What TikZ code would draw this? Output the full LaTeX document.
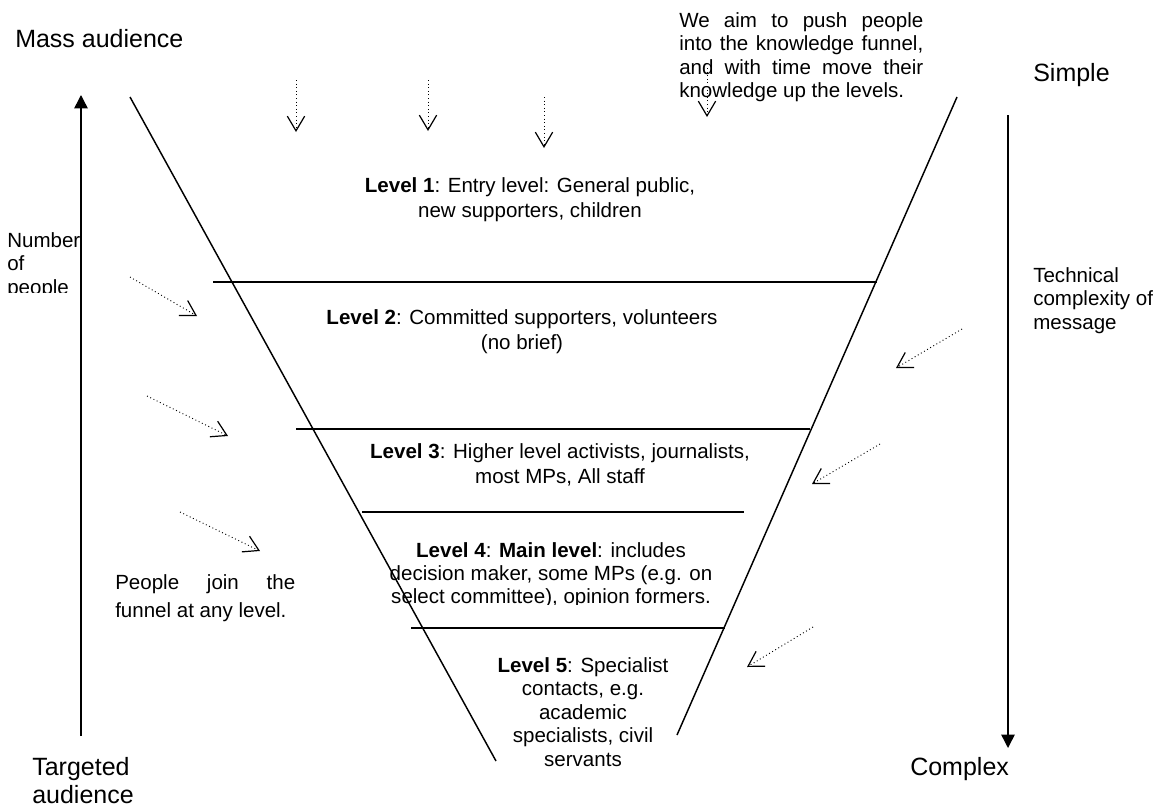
\documentclass[tikz,border=0pt]{standalone}
\usepackage{fontspec}
\setmainfont{Liberation Sans}
\usetikzlibrary{arrows.meta}
\begin{document}
\begin{tikzpicture}[x=0.75pt,y=-0.75pt,
  funnel/.style={line width=1.1pt},
  axisarrow/.style={line width=1.1pt,-{Triangle[length=10pt,width=10pt]}},
  push/.style={dotted,line width=0.7pt,-{Straight Barb[length=11pt,width=13pt,line width=0.9pt]}},
  body/.style={font=\fontsize{15.4}{17.6}\selectfont,inner sep=0pt},
  big/.style={font=\fontsize{18.75}{21.75}\selectfont,inner sep=0pt}]
\useasboundingbox (0,0) rectangle (1156,810);

% axes
\coordinate (la0) at (81,736); \coordinate (la1) at (81,95);
\coordinate (ra0) at (1008,115); \coordinate (ra1) at (1008,748);
\draw[axisarrow] (la0) -- (la1);
\draw[axisarrow] (ra0) -- (ra1);

% funnel
\coordinate (fl0) at (130,97); \coordinate (fl1) at (496,761);
\coordinate (fr0) at (957,97); \coordinate (fr1) at (677,735);
\draw[funnel] (fl0) -- (fl1);
\draw[funnel] (fr0) -- (fr1);
\coordinate (h1a) at (213,282); \coordinate (h1b) at (877,282);
\coordinate (h2a) at (296,429); \coordinate (h2b) at (810,429);
\coordinate (h3a) at (362,512); \coordinate (h3b) at (744,512);
\coordinate (h4a) at (411,628); \coordinate (h4b) at (725,628);
\draw[funnel] (h1a) -- (h1b);
\draw[funnel] (h2a) -- (h2b);
\draw[funnel] (h3a) -- (h3b);
\draw[funnel] (h4a) -- (h4b);

% push arrows (top)
\coordinate (v1a) at (296,80);  \coordinate (v1b) at (296,132);
\coordinate (v2a) at (428,80);  \coordinate (v2b) at (428,131);
\coordinate (v3a) at (544,97);  \coordinate (v3b) at (544,148);
\coordinate (v4a) at (707,68);  \coordinate (v4b) at (707,117);
\draw[push] (v1a) -- (v1b);
\draw[push] (v2a) -- (v2b);
\draw[push] (v3a) -- (v3b);
\draw[push] (v4a) -- (v4b);
% push arrows (left)
\coordinate (l1a) at (130,277); \coordinate (l1b) at (197,316);
\coordinate (l2a) at (147,396); \coordinate (l2b) at (228,436);
\coordinate (l3a) at (180,512); \coordinate (l3b) at (260,551);
\draw[push] (l1a) -- (l1b);
\draw[push] (l2a) -- (l2b);
\draw[push] (l3a) -- (l3b);
% push arrows (right)
\coordinate (r1a) at (962,329); \coordinate (r1b) at (896,368);
\coordinate (r2a) at (880,444); \coordinate (r2b) at (812,484);
\coordinate (r3a) at (813,627); \coordinate (r3b) at (747,667);
\draw[push] (r1a) -- (r1b);
\draw[push] (r2a) -- (r2b);
\draw[push] (r3a) -- (r3b);

% corner labels
\node[big,anchor=base west] (mass) at (15,47) {Mass audience};
\node[big,anchor=base west] (simple) at (1033,81) {Simple};
\node[big,anchor=base west] (targ1) at (32,775) {Targeted};
\node[big,anchor=base west] (targ2) at (32,803) {audience};
\node[big,anchor=base west] (complex) at (910,775) {Complex};

% top right note
\node[body,anchor=base west] (aim1) at (679,27) {\makebox[183pt][s]{We aim to push people}};
\node[body,anchor=base west] (aim2) at (679,50.5) {\makebox[183pt][s]{into the knowledge funnel,}};
\node[body,anchor=base west] (aim3) at (679,74) {\makebox[183pt][s]{and with time move their}};
\node[body,anchor=base west] (aim4) at (679,97.5) {knowledge up the levels.};

% number of people (clipped box)
\begin{scope}
\clip (0,220) rectangle (85,292);
\node[body,anchor=base west] (num1) at (7,247) {Number};
\node[body,anchor=base west] (num2) at (7,270) {of};
\node[body,anchor=base west] (num3) at (7,294) {people};
\end{scope}

% technical complexity
\node[body,anchor=base west] (tech1) at (1033,282) {Technical};
\node[body,anchor=base west] (tech2) at (1033,305) {complexity of};
\node[body,anchor=base west] (tech3) at (1033,329) {message};

% people join
\node[body,anchor=base west] (join1) at (115,589) {\makebox[135pt][s]{People join the}};
\node[body,anchor=base west] (join2) at (115,617) {funnel at any level.};

% levels
\node[body,anchor=base] (l1t1) at (530,192) {\textbf{Level 1}: Entry level: General public,};
\node[body,anchor=base] (l1t2) at (530,217) {new supporters, children};
\node[body,anchor=base] (l2t1) at (522,324) {\textbf{Level 2}: Committed supporters, volunteers};
\node[body,anchor=base] (l2t2) at (522,349) {(no brief)};
\node[body,anchor=base] (l3t1) at (560,458) {\textbf{Level 3}: Higher level activists, journalists,};
\node[body,anchor=base] (l3t2) at (560,483) {most MPs, All staff};
\begin{scope}
\clip (380,530) rectangle (730,604);
\node[body,anchor=base] (l4t1) at (551,557) {\textbf{Level 4}: \textbf{Main level}: includes};
\node[body,anchor=base] (l4t2) at (551,580) {decision maker, some MPs (e.g. on};
\node[body,anchor=base] (l4t3) at (551,603) {select committee), opinion formers.};
\end{scope}
\node[body,anchor=base] (l5t1) at (583,672) {\textbf{Level 5}: Specialist};
\node[body,anchor=base] (l5t2) at (583,695.5) {contacts, e.g.};
\node[body,anchor=base] (l5t3) at (583,719) {academic};
\node[body,anchor=base] (l5t4) at (583,742.5) {specialists, civil};
\node[body,anchor=base] (l5t5) at (583,766) {servants};
\end{tikzpicture}
\end{document}
